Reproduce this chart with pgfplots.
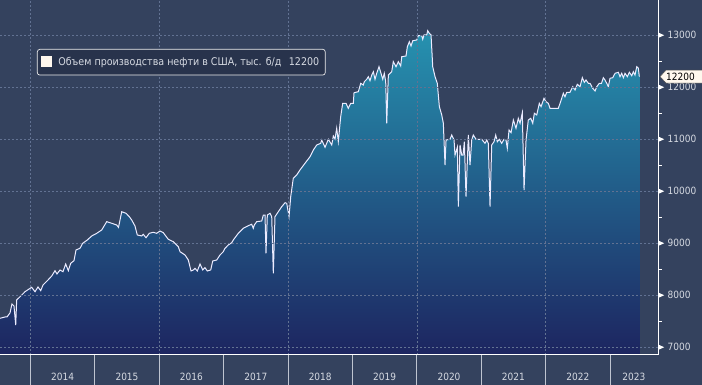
\documentclass[border=0pt]{standalone}
\usepackage{fontspec}
\setmainfont{DejaVu Sans Condensed}
\usepackage{pgfplots}
\pgfplotsset{compat=1.18}
\usepackage{pgfplotstable}
\definecolor{bgc}{RGB}{52,66,94}
\definecolor{gridc}{RGB}{98,114,146}
\definecolor{topc}{RGB}{38,146,176}
\definecolor{botc}{RGB}{29,37,96}
\definecolor{txtc}{RGB}{214,218,226}
\definecolor{legbg}{RGB}{40,51,76}
\definecolor{sepc}{RGB}{190,196,208}
\definecolor{lastbg}{RGB}{255,248,238}

\pgfplotstableread{
t v
2013.528 7552
2013.606 7577
2013.637 7577
2013.683 7654
2013.714 7827
2013.745 7788
2013.772 7423
2013.787 7904
2013.839 7967
2013.916 8063
2014.020 8148
2014.072 8063
2014.118 8154
2014.160 8083
2014.196 8192
2014.273 8288
2014.331 8365
2014.382 8467
2014.413 8404
2014.460 8481
2014.506 8448
2014.548 8596
2014.589 8467
2014.626 8610
2014.677 8660
2014.708 8865
2014.770 8898
2014.812 8994
2014.884 9058
2014.952 9135
2015.030 9186
2015.107 9250
2015.185 9410
2015.263 9379
2015.340 9346
2015.368 9300
2015.418 9602
2015.485 9571
2015.536 9506
2015.573 9442
2015.624 9327
2015.660 9154
2015.728 9135
2015.753 9167
2015.795 9102
2015.846 9186
2015.908 9206
2015.961 9186
2016.013 9231
2016.064 9198
2016.141 9071
2016.219 9025
2016.297 8929
2016.323 8833
2016.401 8769
2016.452 8673
2016.494 8462
2016.530 8481
2016.556 8513
2016.592 8462
2016.634 8596
2016.676 8481
2016.711 8525
2016.747 8462
2016.800 8481
2016.831 8654
2016.893 8673
2016.944 8769
2016.995 8833
2017.022 8898
2017.073 8962
2017.126 9006
2017.151 9058
2017.228 9186
2017.306 9283
2017.384 9333
2017.436 9360
2017.461 9283
2017.477 9346
2017.514 9410
2017.592 9423
2017.617 9538
2017.643 9538
2017.658 8802
2017.679 9538
2017.721 9571
2017.747 9506
2017.772 8417
2017.798 9506
2017.850 9602
2017.902 9698
2017.954 9775
2017.980 9763
2018.016 9506
2018.042 9890
2018.082 10244
2018.135 10308
2018.186 10404
2018.264 10533
2018.342 10660
2018.393 10788
2018.446 10885
2018.508 10917
2018.523 10981
2018.575 10840
2018.626 10994
2018.679 10885
2018.704 11058
2018.730 11000
2018.756 11206
2018.781 10950
2018.818 11429
2018.849 11686
2018.901 11686
2018.936 11590
2018.974 11686
2019.014 11686
2019.025 11890
2019.092 11910
2019.129 12071
2019.169 12038
2019.185 12102
2019.222 12148
2019.247 12198
2019.273 12121
2019.300 12231
2019.325 12294
2019.351 12148
2019.377 12263
2019.413 12390
2019.444 12263
2019.471 12148
2019.495 12263
2019.517 12102
2019.533 11302
2019.558 12231
2019.610 12294
2019.635 12487
2019.677 12390
2019.713 12487
2019.750 12404
2019.766 12583
2019.832 12596
2019.853 12775
2019.884 12871
2019.910 12788
2019.937 12890
2019.999 12904
2020.023 12986
2020.076 12986
2020.092 12917
2020.112 13000
2020.154 13000
2020.169 13083
2020.194 13033
2020.221 13000
2020.247 12390
2020.283 12198
2020.318 12071
2020.350 11621
2020.387 11462
2020.412 11302
2020.422 10981
2020.438 10500
2020.454 10981
2020.516 10994
2020.542 11077
2020.578 10981
2020.593 10692
2020.629 10840
2020.645 9698
2020.671 10885
2020.697 10692
2020.718 10692
2020.738 10948
2020.764 9890
2020.800 11077
2020.826 10500
2020.853 10981
2020.877 11077
2020.919 10994
2021.008 10994
2021.059 10917
2021.086 10981
2021.110 10917
2021.137 9698
2021.163 10885
2021.199 10948
2021.225 11077
2021.250 10948
2021.281 10994
2021.318 10917
2021.354 10994
2021.385 10981
2021.405 10821
2021.432 11173
2021.463 11121
2021.499 11365
2021.540 11206
2021.576 11398
2021.603 11302
2021.638 11506
2021.665 10019
2021.696 10981
2021.731 11365
2021.769 11398
2021.800 11302
2021.825 11494
2021.862 11462
2021.902 11686
2021.929 11621
2021.975 11783
2022.006 11717
2022.042 11686
2022.068 11590
2022.197 11590
2022.224 11686
2022.250 11783
2022.275 11879
2022.301 11813
2022.328 11898
2022.379 11898
2022.421 12006
2022.457 11942
2022.492 12052
2022.534 12006
2022.570 12179
2022.601 12090
2022.627 12135
2022.663 12071
2022.690 12071
2022.731 11975
2022.767 11923
2022.794 12006
2022.834 12071
2022.868 12071
2022.896 12179
2022.922 12135
2022.949 12071
2022.974 12006
2023.000 12167
2023.042 12179
2023.078 12263
2023.129 12283
2023.155 12198
2023.182 12263
2023.207 12179
2023.233 12263
2023.269 12198
2023.300 12283
2023.337 12217
2023.362 12294
2023.388 12231
2023.415 12390
2023.440 12360
2023.455 12200
}\oil

\begin{document}
\begin{tikzpicture}[font=\fontsize{10}{12}\selectfont]
\useasboundingbox (0,-30pt) rectangle (702pt,355pt);
\fill[bgc] (0,-30pt) rectangle (702pt,355pt);
\begin{axis}[
  at={(0,0)}, anchor=south west,
  scale only axis, width=658pt, height=355pt,
  xmin=2013.528, xmax=2023.745, ymin=6846, ymax=13673,
  axis x line=bottom, axis y line=right,
  axis line style={-, white, line width=1pt},
  axis on top,
  clip=false,
  scaled y ticks=false,
  xtick={2014.5,2015.5,2016.5,2017.5,2018.5,2019.5,2020.5,2021.5,2022.5,2023.37},
  xticklabels={2014,2015,2016,2017,2018,2019,2020,2021,2022,2023},
  minor xtick={2014,2016,2018,2020,2022},
  xminorgrids=true, ymajorgrids=true, xmajorgrids=false,
  grid style={gridc, dash pattern=on 2pt off 2pt, line width=0.55pt},
  minor grid style={gridc, dash pattern=on 2pt off 2pt, line width=0.55pt},
  xtick style={draw=none},
  ytick={7000,8000,...,13000},
  minor y tick num=1,
  major tick length=0pt, minor tick length=4pt,
  tick align=outside,
  ytick style={white, line width=0.8pt},
  yticklabel={\tikz[baseline=-0.62ex]\fill[white] (0,-2.7pt)--(6pt,0)--(0,2.7pt)--cycle;\hspace{3.5pt}\pgfmathprintnumber[assume math mode=true,1000 sep={}]{\tick}},
  yticklabel style={anchor=west, inner sep=0pt, text=txtc},
  xticklabel style={text=txtc, yshift=-15pt},
  legend style={at={(0.0562,0.862)}, anchor=north west, fill=legbg,
    draw=white!85!gray, rounded corners=2.5pt, text=txtc,
    inner xsep=4pt, inner ysep=6pt, line width=0.7pt,
    font=\fontsize{10.6}{12}\selectfont},
  legend image code/.code={\fill[lastbg, sharp corners] (0pt,-4.5pt) rectangle (10pt,5.5pt); \path (14pt,0);},
]
\addplot[draw=none, top color=topc, bottom color=botc, forget plot] table[x=t,y=v]{\oil} \closedcycle;
\addplot[white!92!blue, line width=1pt] table[x=t,y=v]{\oil};
\addlegendentry{Объем производства нефти в США, тыс. б/д\hspace{0.7em}12200}
\pgfplotsinvokeforeach{2014,...,2023}{\draw[sepc, line width=0.8pt] (axis cs:#1,6846) -- ++(0pt,-30pt);}
\coordinate (L) at (axis cs:2023.745,12200);
\end{axis}
\filldraw[fill=lastbg, draw=black!70, line width=0.5pt] ([xshift=2pt]L) -- ([xshift=8pt,yshift=6.5pt]L) -- ([xshift=50pt,yshift=6.5pt]L) -- ([xshift=50pt,yshift=-6.5pt]L) -- ([xshift=8pt,yshift=-6.5pt]L) -- cycle;
\node[anchor=west, text=black, inner sep=0pt] at ([xshift=8pt]L) {12200};
\end{tikzpicture}
\end{document}
